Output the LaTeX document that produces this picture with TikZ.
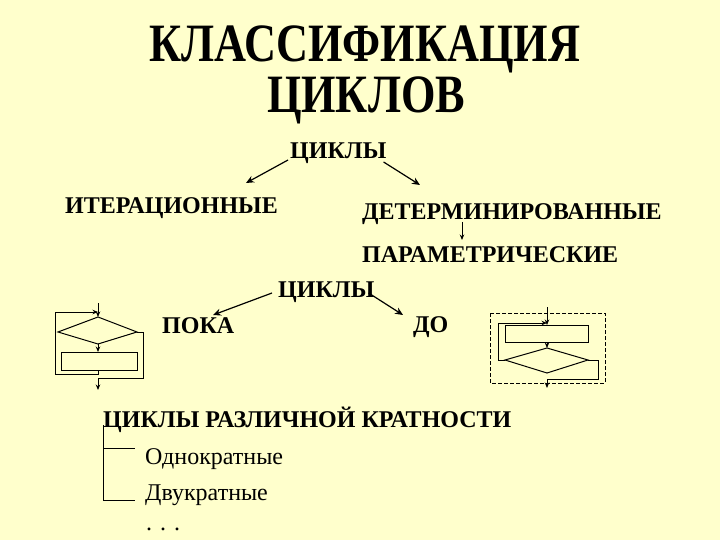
\documentclass[tikz,border=0pt]{standalone}
\usepackage{fontspec}
\setmainfont{Liberation Serif}
\usetikzlibrary{arrows.meta}
\definecolor{bg}{RGB}{255,255,204}
\begin{document}
\begin{tikzpicture}[x=1pt,y=-1pt,
  ttl/.style={font=\bfseries\fontsize{54}{58}\selectfont, inner sep=0, anchor=base, xscale=0.82},
  lbl/.style={font=\bfseries\fontsize{24}{26}\selectfont, inner sep=0, anchor=base west},
  reg/.style={font=\fontsize{24}{26}\selectfont, inner sep=0, anchor=base west},
  arr/.style={-{Stealth[length=8pt,width=7pt]}, line width=1.2pt},
  fl/.style={line width=1pt},
  fla/.style={fl, -{Stealth[length=5.5pt,width=4.5pt]}}]
\fill[bg] (0,0) rectangle (720,540);
\useasboundingbox (0,0) rectangle (720,540);
% title
\node[ttl] (t1) at (365,62) {КЛАССИФИКАЦИЯ};
\node[ttl] (t2) at (366,113) {ЦИКЛОВ};
% first tree
\node[lbl] (c1) at (290,159) {ЦИКЛЫ};
\node[lbl] (it) at (65,214) {ИТЕРАЦИОННЫЕ};
\node[lbl] (det) at (362,220) {ДЕТЕРМИНИРОВАННЫЕ};
\node[lbl] (par) at (362,262) {ПАРАМЕТРИЧЕСКИЕ};
\coordinate (itT) at (246,183);
\coordinate (detT) at (420,185);
\draw[arr] (c1.base west) ++(-2,1) -- (itT);
\draw[arr] (c1.base east) ++(-3,3) -- (detT);
\draw[fla] (462,222) -- (462,240);
% second tree
\node[lbl] (c2) at (278,297) {ЦИКЛЫ};
\node[lbl] (poka) at (162,333) {ПОКА};
\node[lbl] (do) at (413,332) {ДО};
\coordinate (pokaT) at (213,315);
\coordinate (doT) at (403,315);
\draw[arr] (c2.base west) ++(-6,-4) -- (pokaT);
\draw[arr] (c2.base east) ++(-6,-4) -- (doT);
% left flowchart (while)
\coordinate (Ltop) at (98,317);
\coordinate (Lleft) at (58,332);
\coordinate (Lright) at (137,332);
\coordinate (Lbot) at (98,344);
\draw[fl] (Ltop) -- (Lright) -- (Lbot) -- (Lleft) -- cycle;
\draw[fl] (61,352) rectangle (137,370);
\coordinate (Lbt) at (98,352);
\coordinate (Lbb) at (98,370);
\draw[fla] (98,303) -- (Ltop);
\draw[fla] (Lbot) -- (Lbt);
\draw[fla] (Lbb) -- (98,374) -- (55,374) -- (55,312) -- (98,312);
\draw[fla] (Lright) -- (143,332) -- (143,378) -- (98,378) -- (98,390);
% right flowchart (do-while)
\draw[fl, dashed, dash pattern=on 4pt off 2pt] (490,313) rectangle (605,383);
\draw[fl] (505,325) rectangle (588,342);
\coordinate (Rtop) at (547,348);
\coordinate (Rleft) at (505,360);
\coordinate (Rright) at (588,360);
\coordinate (Rbot) at (547,373);
\draw[fl] (Rtop) -- (Rright) -- (Rbot) -- (Rleft) -- cycle;
\draw[fla] (547,307) -- (547,325);
\draw[fla] (Rleft) -- (498,360) -- (498,323) -- (547,323);
\draw[fla] (547,342) -- (Rtop);
\draw[fla] (Rright) -- (598,360) -- (598,379) -- (547,379) -- (547,388);
% multiplicity
\node[lbl] (kr) at (103,427) {ЦИКЛЫ РАЗЛИЧНОЙ КРАТНОСТИ};
\node[reg] (one) at (145,464) {Однократные};
\node[reg] (two) at (145,500) {Двукратные};
\node[reg] (dots) at (146,530) {. . .};
\draw[fl] (103,425) -- (103,500) -- (135,500);
\draw[fl] (103,448) -- (135,448);
\end{tikzpicture}
\end{document}
